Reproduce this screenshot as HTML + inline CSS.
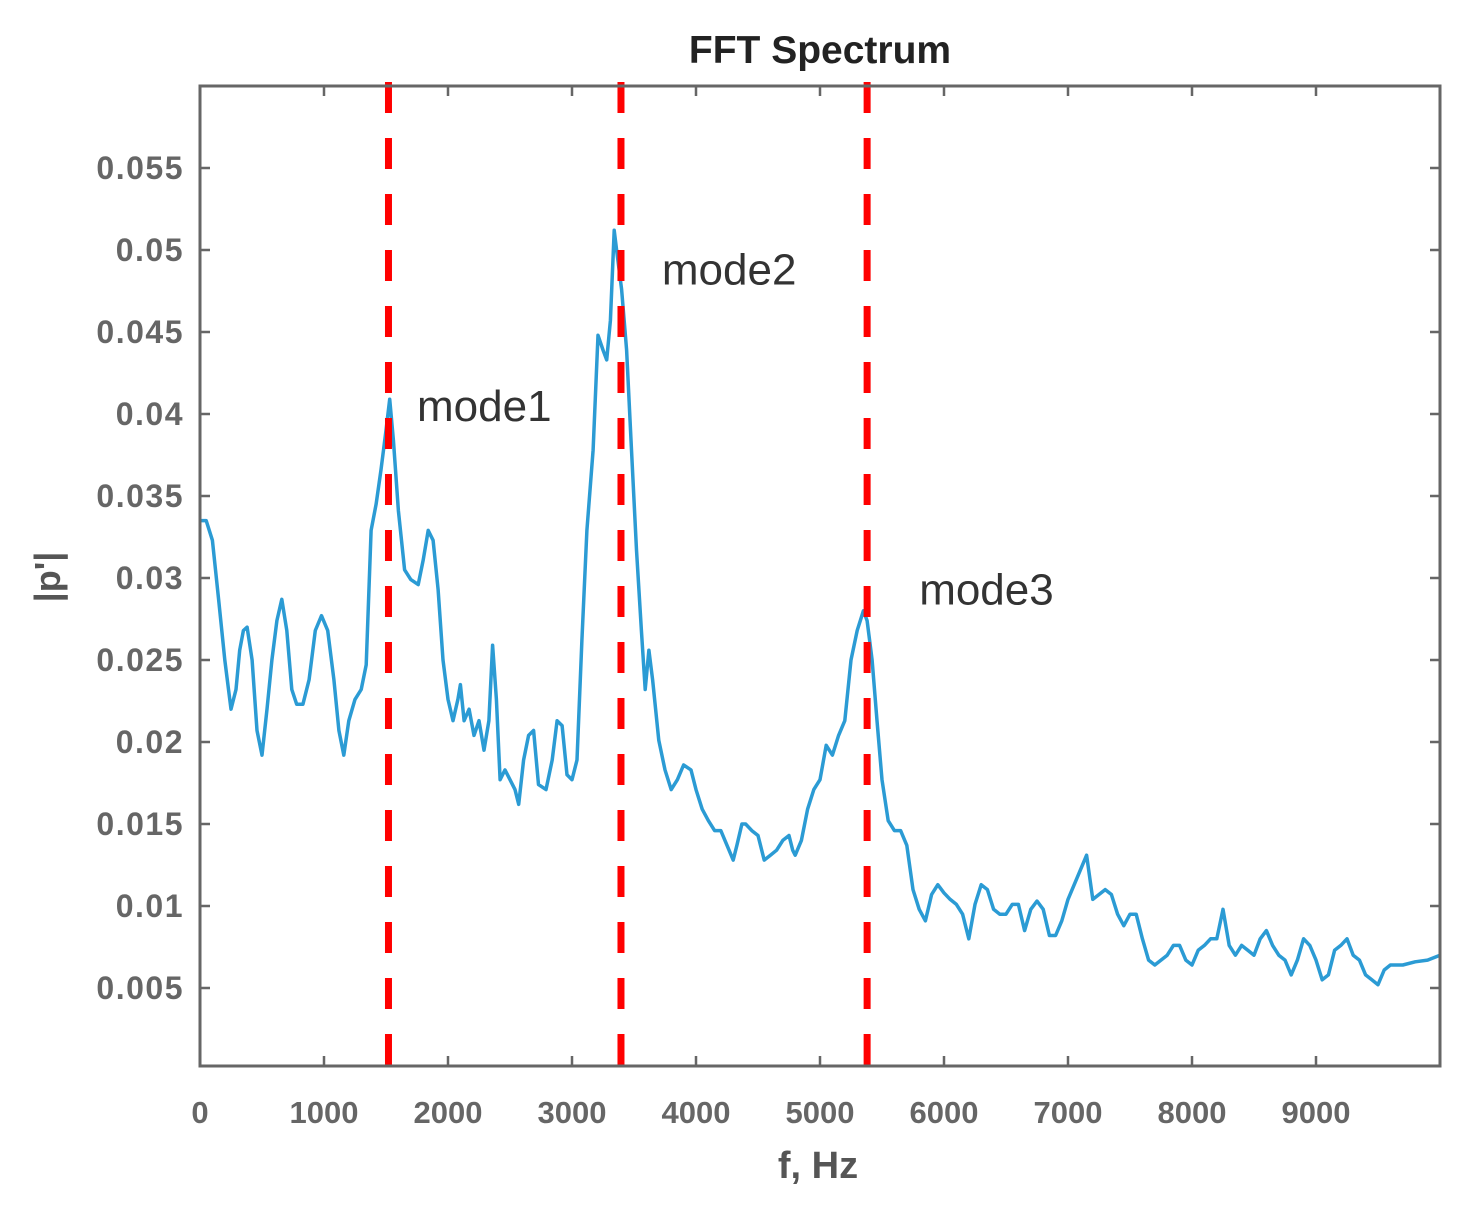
<!DOCTYPE html>
<html><head><meta charset="utf-8"><style>
body{margin:0;background:#fff;}
svg text{font-family:"Liberation Sans",sans-serif;}
</style></head><body>
<svg id="chart" width="1471" height="1214" viewBox="0 0 1471 1214" xmlns="http://www.w3.org/2000/svg">
<text x="820" y="63" text-anchor="middle" font-size="39" font-weight="bold" fill="#222">FFT Spectrum</text>
<g id="grid"></g>
<g id="series"></g>
<g id="marks"></g>
<rect x="200" y="86" width="1240" height="980" fill="none" stroke="#666" stroke-width="3"/>
<text transform="translate(60,577) rotate(-90)" text-anchor="middle" font-size="36" fill="#555" font-weight="bold">|p'|</text>
<text x="818" y="1178" text-anchor="middle" font-size="38" fill="#555" font-weight="bold">f, Hz</text>
</svg>
<script>
const xTicks=[0,1000,2000,3000,4000,5000,6000,7000,8000,9000];
const yTicks=[0.005,0.01,0.015,0.02,0.025,0.03,0.035,0.04,0.045,0.05,0.055];
const yTickLabels=["0.005","0.01","0.015","0.02","0.025","0.03","0.035","0.04","0.045","0.05","0.055"];
const modeFreqs=[1520,3395,5380];
const modeLabels=["mode1","mode2","mode3"];
const modeLabelFreqs=[1750,3725,5800];
const modeLabelValues=[0.0405,0.0488,0.0293];
const freqs=[0,50,100,150,200,250,290,320,350,380,420,460,500,540,580,620,660,700,740,780,830,880,930,980,1030,1080,1120,1160,1200,1250,1300,1340,1380,1420,1460,1500,1530,1560,1600,1650,1700,1760,1800,1840,1880,1920,1960,2000,2040,2080,2100,2130,2170,2210,2250,2290,2330,2360,2390,2420,2460,2500,2540,2570,2610,2650,2690,2730,2790,2840,2880,2920,2960,3000,3040,3080,3120,3170,3210,3250,3280,3310,3340,3360,3400,3440,3480,3520,3560,3590,3620,3650,3700,3750,3800,3850,3900,3960,4000,4050,4100,4150,4200,4250,4300,4330,4370,4400,4450,4500,4550,4600,4650,4700,4750,4780,4800,4850,4900,4950,5000,5050,5100,5150,5200,5250,5300,5350,5380,5420,5460,5500,5550,5600,5650,5700,5750,5800,5850,5900,5950,6000,6050,6100,6150,6200,6250,6300,6350,6400,6450,6500,6550,6600,6650,6700,6750,6800,6850,6900,6950,7000,7050,7100,7150,7200,7250,7300,7350,7400,7450,7500,7550,7600,7650,7700,7750,7800,7850,7900,7950,8000,8050,8100,8150,8200,8250,8300,8350,8400,8450,8500,8550,8600,8650,8700,8750,8800,8850,8900,8950,9000,9050,9100,9150,9200,9250,9300,9350,9400,9450,9500,9550,9600,9700,9800,9900,10000];
const amps=[.0335,.0335,.0323,.0287,.025,.022,.0232,.0256,.0268,.027,.025,.0207,.0192,.022,.025,.0274,.0287,.0268,.0232,.0223,.0223,.0238,.0268,.0277,.0268,.0238,.0207,.0192,.0213,.0226,.0232,.0247,.0329,.0345,.0366,.039,.0409,.0384,.0341,.0305,.0299,.0296,.0311,.0329,.0323,.0293,.025,.0226,.0213,.0226,.0235,.0213,.022,.0204,.0213,.0195,.0213,.0259,.0226,.0177,.0183,.0177,.0171,.0162,.0189,.0204,.0207,.0174,.0171,.0189,.0213,.021,.018,.0177,.0189,.0262,.0329,.0378,.0448,.0439,.0433,.0457,.0512,.05,.0476,.0439,.0378,.0317,.0268,.0232,.0256,.0238,.0201,.0183,.0171,.0177,.0186,.0183,.0171,.0159,.0152,.0146,.0146,.0137,.0128,.0137,.015,.015,.0146,.0143,.0128,.0131,.0134,.014,.0143,.0134,.0131,.014,.0159,.0171,.0177,.0198,.0192,.0204,.0213,.025,.0268,.028,.0274,.025,.0213,.0177,.0152,.0146,.0146,.0137,.011,.0098,.0091,.0107,.0113,.0108,.0104,.0101,.0095,.008,.0101,.0113,.011,.0098,.0095,.0095,.0101,.0101,.0085,.0098,.0103,.0098,.0082,.0082,.0091,.0104,.0113,.0122,.0131,.0104,.0107,.011,.0107,.0095,.0088,.0095,.0095,.008,.0067,.0064,.0067,.007,.0076,.0076,.0067,.0064,.0073,.0076,.008,.008,.0098,.0076,.007,.0076,.0073,.007,.008,.0085,.0076,.007,.0067,.0058,.0067,.008,.0076,.0067,.0055,.0058,.0073,.0076,.008,.007,.0067,.0058,.0055,.0052,.0061,.0064,.0064,.0066,.0067,.007];
const NS="http://www.w3.org/2000/svg";
const X0=200,X1=1440,Y0=1066,Y1=86;
function xs(f){return X0+f*(X1-X0)/10000;}
function ys(v){return 1070-v*16400;}
function mk(tag,attrs,parent){const e=document.createElementNS(NS,tag);for(const k in attrs)e.setAttribute(k,attrs[k]);parent.appendChild(e);return e;}
const grid=document.getElementById('grid'),ser=document.getElementById('series'),marks=document.getElementById('marks');
xTicks.forEach(t=>{const x=xs(t);
 const l=mk('path',{d:`M${x},${Y0}V${Y0-10}M${x},${Y1}V${Y1+10}`,stroke:'#666','stroke-width':2.5},grid);
 
 
 const tx=mk('text',{x:x,y:1123,'text-anchor':'middle','font-size':31,'font-weight':'bold',fill:'#666'},grid);tx.textContent=t;
 
 });
yTicks.forEach((t,i)=>{const y=ys(t);
 const l=mk('path',{d:`M${X0},${y}H${X0+10}M${X1},${y}H${X1-10}`,stroke:'#666','stroke-width':2.5},grid);
 
 
 const tx=mk('text',{x:184,y:y+11,'text-anchor':'end','font-size':32,'font-weight':'bold',fill:'#666','letter-spacing':'1.5'},grid);tx.textContent=yTickLabels[i];
 
 });
const pts=freqs.map((f,i)=>xs(f).toFixed(1)+','+ys(amps[i]).toFixed(1)).join(' ');
const pl=mk('polyline',{points:pts,fill:'none',stroke:'#2b9bd4','stroke-width':3.5,'stroke-linejoin':'round'},ser);


modeFreqs.forEach((f,i)=>{const x=xs(f);
 const l=mk('line',{x1:x,x2:x,y1:Y1-4,y2:Y0,stroke:'#ff0000','stroke-width':7,'stroke-dasharray':'31 25'},marks);
 
 
 const tx=mk('text',{x:xs(modeLabelFreqs[i]),y:ys(modeLabelValues[i])+15,'font-size':44,fill:'#333'},marks);tx.textContent=modeLabels[i];
 
 });
</script>
</body></html>
